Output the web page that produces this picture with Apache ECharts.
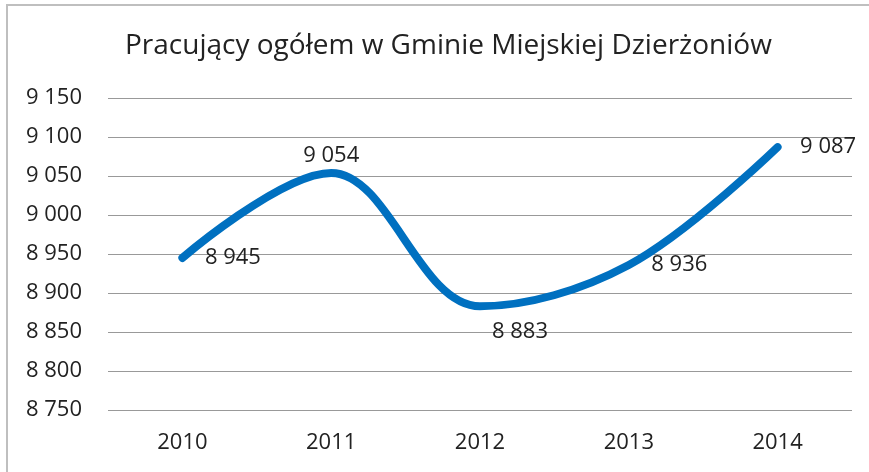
<!DOCTYPE html>
<html>
<head>
<meta charset="utf-8">
<script src="https://cdn.jsdelivr.net/npm/echarts@6/dist/echarts.min.js"></script>
<style>
  html, body { margin: 0; padding: 0; background: #fff; }
  #chart { width: 869px; height: 472px; }
</style>
</head>
<body>
<div id="chart"></div>
<script>
const titleText = 'Pracujący ogółem w Gminie Miejskiej Dzierżoniów'
const years = ['2010', '2011', '2012', '2013', '2014']
const employed = [8945, 9054, 8883, 8936, 9087]

const font = '"Open Sans", sans-serif'
const textColor = '#222'

// polish thousands separator: "9 150"
function fmt(v) {
  return String(v).replace(/\B(?=(\d{3})+(?!\d))/g, ' ')
}

// label placement per point, following the picture
function labelFor(i) {
  if (i === 1) return { position: 'top', distance: 6 }
  if (i === 2) return { position: 'bottom', distance: 14, offset: [40, 0] }
  return { position: 'right', distance: 22 }
}

const chart = echarts.init(document.getElementById('chart'), null, { renderer: 'canvas' })

chart.setOption({
  animation: false,
  backgroundColor: '#fff',
  title: {
    text: titleText,
    left: 120,
    top: 27,
    textStyle: { fontFamily: font, fontSize: 28, fontWeight: 'normal', color: textColor },
  },
  graphic: [
    {
      type: 'rect',
      silent: true,
      shape: { x: 7, y: 5, width: 900, height: 500 },
      style: { fill: 'none', stroke: '#bfbfbf', lineWidth: 2 },
    },
  ],
  grid: { left: 108, right: 17, top: 98, bottom: 62 },
  xAxis: {
    type: 'category',
    data: years,
    boundaryGap: true,
    axisLine: { show: false },
    axisTick: { show: false },
    axisLabel: { fontFamily: font, fontSize: 22, color: textColor, margin: 22 },
  },
  yAxis: {
    type: 'value',
    min: 8750,
    max: 9150,
    interval: 50,
    axisLine: { show: false },
    axisTick: { show: false },
    axisLabel: { fontFamily: font, fontSize: 22, color: textColor, margin: 26, formatter: fmt },
    splitLine: { lineStyle: { color: '#999', width: 1 } },
  },
  series: [
    {
      type: 'line',
      smooth: 0.36,
      showSymbol: true,
      symbol: 'circle',
      symbolSize: 1,
      itemStyle: { color: '#0070c0' },
      lineStyle: { color: '#0070c0', width: 8, cap: 'round', join: 'round' },
      data: employed.map((v, i) => ({
        value: v,
        label: Object.assign({
          show: true,
          fontFamily: font,
          fontSize: 22,
          color: textColor,
          formatter: (p) => fmt(p.value),
        }, labelFor(i)),
      })),
    },
  ],
})
</script>
</body>
</html>
